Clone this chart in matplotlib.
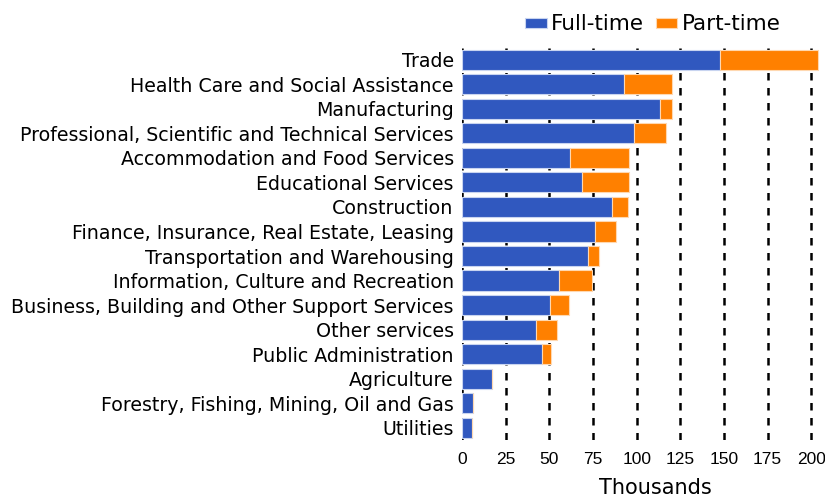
import matplotlib.pyplot as plt
import numpy as np

plt.rcParams['font.family'] = ['DejaVu Sans']

industries = ['Trade', 'Health Care and Social Assistance', 'Manufacturing',
              'Professional, Scientific and Technical Services',
              'Accommodation and Food Services', 'Educational Services',
              'Construction', 'Finance, Insurance, Real Estate, Leasing',
              'Transportation and Warehousing',
              'Information, Culture and Recreation',
              'Business, Building and Other Support Services',
              'Other services', 'Public Administration', 'Agriculture',
              'Forestry, Fishing, Mining, Oil and Gas', 'Utilities']

full_time = [147.5, 92.8, 113.5, 98.6, 61.9, 68.8, 86.0, 76.4, 72.2,
             55.8, 50.4, 42.4, 45.7, 17.0, 6.5, 5.5]
part_time = [56.3, 27.4, 6.5, 18.1, 34.0, 27.1, 8.8, 11.5, 6.5,
             18.5, 11.1, 12.2, 5.5, 0, 0, 0]

xticks = [0, 25, 50, 75, 100, 125, 150, 175, 200]

fig = plt.figure(figsize=(8.25, 5), dpi=100)
ax = fig.add_axes([0.56, 0.12, 0.434, 0.785])

y = np.arange(len(industries))
ax.barh(y, full_time, height=0.82, color='#3058BF', edgecolor='#c8d4f0',
        linewidth=0.8, label='Full-time', zorder=3)
ax.barh(y, part_time, left=full_time, height=0.82, color='#FF8000',
        edgecolor='#ffd8b0', linewidth=0.8, label='Part-time', zorder=3)

ax.set_ylim(len(industries) - 0.5, -0.5)
ax.set_xlim(0, 205)
ax.set_yticks(y)
ax.set_yticklabels(industries, fontsize=13.7)
ax.set_xticks(xticks)
ax.set_xticklabels([str(t) for t in xticks], fontsize=12.5, family='Liberation Sans')
ax.tick_params(axis='y', length=0, pad=6)
ax.tick_params(axis='x', length=0, pad=9)
for s in ax.spines.values():
    s.set_visible(False)
ax.xaxis.grid(True, color='black', linestyle=(0, (3, 3)), linewidth=1.8, zorder=0)
ax.set_axisbelow(True)
ax.set_xlabel('Thousands', fontsize=15)
ax.xaxis.set_label_coords(0.54, -0.097)

ax.legend(loc='center right', bbox_to_anchor=(0.946, 0.951),
          bbox_transform=fig.transFigure, ncol=2, frameon=False,
          fontsize=15.5, handlelength=1.0, handleheight=0.37, handletextpad=0.19,
          columnspacing=0.55, borderaxespad=0, borderpad=0)

fig.savefig('out.png')
